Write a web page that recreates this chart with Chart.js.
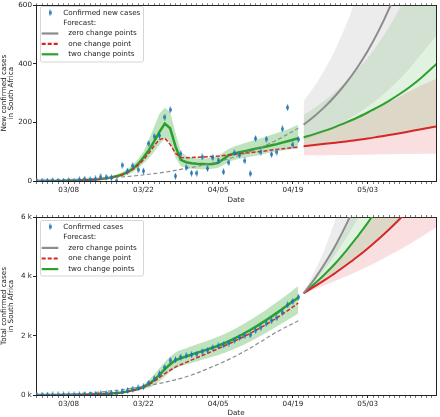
<!DOCTYPE html>
<html>
<head>
<meta charset="utf-8">
<script src="https://cdn.jsdelivr.net/npm/chart.js@4.4.1/dist/chart.umd.min.js"></script>
<style>
  body { margin: 0; background: #fff; }
  canvas { position: absolute; left: 0; display: block; }
</style>
</head>
<body>
<canvas id="newChart" width="440" height="208" style="top:0"></canvas>
<canvas id="totalChart" width="440" height="209" style="top:208px"></canvas>
<script>
// Observed days
const obsDates = ['03/02','03/03','03/04','03/05','03/06','03/07','03/08','03/09','03/10','03/11',
  '03/12','03/13','03/14','03/15','03/16','03/17','03/18','03/19','03/20','03/21',
  '03/22','03/23','03/24','03/25','03/26','03/27','03/28','03/29','03/30','03/31',
  '04/01','04/02','04/03','04/04','04/05','04/06','04/07','04/08','04/09','04/10',
  '04/11','04/12','04/13','04/14','04/15','04/16','04/17','04/18','04/19','04/20'];
const newCases = [0,0,0,1,0,0,2,0,4,6, 4,7,14,13,11,0,54,34,52,38,
  34,128,152,155,218,243,17,93,46,27, 27,82,43,80,70,31,63,96,89,69,
  25,145,99,143,91,99,178,251,124,142];
const totalCases = [0,0,0,1,1,1,3,3,7,13, 17,24,38,51,62,62,116,150,202,240,
  274,402,554,709,927,1170,1187,1280,1326,1353, 1380,1462,1505,1585,1655,1686,1749,1845,1934,2003,
  2028,2173,2272,2415,2506,2605,2783,3034,3158,3300];

// Fitted curves, new cases (same days as obsDates)
const newTwoMid  = [0,0,0,0,0,0,1,1,2,3,4, 5,7,9,12,16,22,30,42,58,80, 105,135,168,196,180,118,72,
  64,61,59,58,57,58,62, 75,88,94,98,102,106,110,114,118,122,126,131,136,141,146];
const newTwoHigh = [1,1,1,1,1,1,2,2,3,5,6, 8,10,13,17,23,30,40,55,75,100, 140,185,230,250,235,165,100,
  85,80,78,77,78,80,85, 98,110,118,124,130,135,141,146,152,158,164,170,176,184,192];
const newTwoLow  = [0,0,0,0,0,0,0,0,1,1,2, 3,5,6,8,11,15,21,30,43,60, 78,100,125,145,130,80,50,
  45,42,40,40,40,42,45, 55,66,72,76,79,83,86,90,94,98,101,104,107,109,111];
const newOneMid  = [0,0,0,0,0,0,1,1,2,3,4, 5,7,9,12,16,21,29,40,54,72, 95,120,142,146,125,95,80,
  79,80,81,82,83,84,85, 87,89,91,93,95,97,99,101,103,106,108,110,112,114,116];
const newZeroDates = ['03/02','03/08','03/14','03/20','03/23','03/26','03/29','04/01','04/04','04/07','04/10','04/13','04/16','04/20'];
const newZeroMid   = [2,5,9,17,23,30,40,50,62,76,94,115,140,180];

// Forecast days
const fcDates = ['04/21','04/23','04/25','04/27','04/29','05/01','05/03','05/05','05/07','05/09','05/11','05/13','05/16'];
const newZeroFc     = [192,221,254,292,336,386,444,511,588,676,778,895,1100];
const newZeroFcHigh = [273,323,382,452,535,633,749,886,1048,1240,1467,1735,2230];
const newZeroFcLow  = [140,154,169,187,207,229,254,282,313,348,388,432,500];
const newTwoFc      = [149,160,172,185,200,216,234,253,274,297,323,352,402];
const newTwoFcHigh  = [225,249,276,306,340,378,421,470,526,590,662,745,890];
const newTwoFcLow   = [118,121,125,129,134,139,145,151,157,163,170,177,188];
const newOneFc      = [119,123,127,131,135,140,145,151,157,163,170,177,187];
const newOneFcHigh  = [150,162,175,189,204,219,235,252,270,288,307,326,350];
const newOneFcLow   = [88,88,88,89,89,90,90,91,91,92,92,93,93];

// Fitted curves, total cases
const totalFitDates = ['03/02','03/12','03/16','03/18','03/20','03/22','03/23','03/24','03/25','03/26',
  '03/28','03/30','04/02','04/05','04/08','04/11','04/14','04/17','04/20'];
const totalTwoMid  = [0,17,48,85,155,275,375,510,680,870,1165,1300,1480,1660,1900,2190,2525,2895,3290];
const totalTwoHigh = [0,19,58,105,195,355,505,690,900,1115,1430,1575,1770,1965,2220,2525,2875,3260,3670];
const totalTwoLow  = [0,15,38,65,115,195,245,330,460,625,900,1025,1190,1350,1550,1800,2100,2420,2750];
const totalOneMid  = [0,17,48,85,150,260,350,460,590,720,940,1100,1330,1560,1810,2080,2380,2720,3100];
const totalZeroDates = ['03/02','03/05','03/08','03/12','03/16','03/20','03/23','03/26','03/29','04/01','04/04','04/07','04/10','04/13','04/16','04/20'];
const totalZeroMid   = [0,12,30,70,140,230,320,430,560,740,960,1200,1480,1800,2130,2500];

const totalZeroFc     = [3430,3900,4440,5050,5750,6550,7450,8480,9650,10980,12500,14220,17300];
const totalZeroFcHigh = [3430,4150,4950,5950,7100,8400,10000,12000,14000,16500,19500,23000,29000];
const totalZeroFcLow  = [3430,3820,4250,4750,5300,5900,6550,7300,8100,9000,10000,11000,12800];
const totalTwoFc      = [3430,3740,4080,4450,4870,5320,5800,6350,6950,7600,8300,9100,10400];
const totalTwoFcHigh  = [3430,3880,4400,4980,5650,6400,7250,8200,9300,10500,11900,13400,16000];
const totalTwoFcLow   = [3430,3640,3870,4110,4370,4640,4930,5240,5570,5920,6290,6680,7300];
const totalOneFc      = [3430,3650,3880,4120,4380,4650,4940,5250,5580,5930,6300,6700,7320];
const totalOneFcHigh  = [3430,3730,4060,4420,4820,5260,5740,6260,6830,7450,8100,8800,10000];
const totalOneFcLow   = [3430,3560,3700,3850,4000,4160,4330,4510,4700,4900,5110,5330,5670];

// Axis ticks
const tickDates = ['03/08','03/22','04/05','04/19','05/03'];
const newTicks = [0, 200, 400, 600];
const totalTicks = [0, 2000, 4000, 6000];

const GREEN = '#2ca02c', RED = '#d62728', GRAY = '#8c8c8c', BLUE = '#1f77b4';
const FONT = 'DejaVu Sans';

// days counted from 03/08
function dayNum(s) {
  const [m, d] = s.split('/').map(Number);
  const start = {3: -8, 4: 23, 5: 53};
  return start[m] + d;
}
function pts(dates, vals) {
  return dates.map((d, i) => ({ x: dayNum(d), y: vals[i] }));
}

// thin diamond marker
const diamond = document.createElement('canvas');
diamond.width = 3; diamond.height = 7;
(function () {
  const c = diamond.getContext('2d');
  c.fillStyle = BLUE;
  c.beginPath(); c.moveTo(1.5, 0); c.lineTo(3, 3.5); c.lineTo(1.5, 7); c.lineTo(0, 3.5); c.closePath(); c.fill();
})();

function line(data, color, width, dash, smooth) {
  return {
    data, borderColor: color, borderWidth: width, borderDash: dash || [],
    pointRadius: 0, fill: false, order: 5, tension: 0,
    cubicInterpolationMode: smooth ? 'monotone' : 'default'
  };
}
// pushes upper and lower edges, the upper one filled down to the lower one
function band(list, high, low, color, smooth) {
  const mode = smooth ? 'monotone' : 'default';
  list.push({ data: high, borderColor: 'transparent', borderWidth: 0, pointRadius: 0,
    backgroundColor: color, fill: list.length + 1, order: 10, cubicInterpolationMode: mode });
  list.push({ data: low, borderColor: 'transparent', borderWidth: 0, pointRadius: 0,
    fill: false, order: 10, cubicInterpolationMode: mode });
}

const boxLegend = {
  id: 'boxLegend',
  afterDraw(chart, args, o) {
    const ctx = chart.ctx;
    ctx.save();
    ctx.beginPath();
    ctx.roundRect(o.x + 0.5, o.y + 0.5, o.w, o.h, 2);
    ctx.fillStyle = 'rgba(255,255,255,0.8)';
    ctx.fill();
    ctx.strokeStyle = '#d6d6d6';
    ctx.lineWidth = 1;
    ctx.stroke();
    ctx.font = '7.2px "' + FONT + '"';
    ctx.textBaseline = 'middle';
    ctx.fillStyle = '#222';
    o.items.forEach((it, i) => {
      const cy = o.y + 6.7 + i * o.step;
      let tx = o.x + 23.3;
      if (it.marker) ctx.drawImage(diamond, o.x + 8.5, cy - 3.5);
      if (it.color) {
        ctx.beginPath();
        ctx.strokeStyle = it.color;
        ctx.lineWidth = 2.2;
        ctx.setLineDash(it.dash || []);
        ctx.moveTo(o.x + 1.7, cy); ctx.lineTo(o.x + 18.3, cy);
        ctx.stroke();
        ctx.setLineDash([]);
        tx = o.x + 28.3;
      }
      ctx.fillText(it.text, tx, cy);
    });
    ctx.restore();
  }
};

function makeChart(id, cfg) {
  const dayTicks = [];
  for (let d = -6; d <= 68; d++) dayTicks.push({ value: d });
  const tickFont = { family: FONT, size: 7.2 };
  const xBase = {
    type: 'linear', min: -6.13, max: 68.8,
    afterBuildTicks: s => { s.ticks = dayTicks.map(t => ({ value: t.value })); },
    border: { display: true, color: '#222', width: 1 },
  };
  const scales = {
    x: Object.assign({}, xBase, {
      position: 'bottom',
      afterFit: s => { s.height = cfg.xHeight; },
      ticks: {
        autoSkip: false, maxRotation: 0, padding: 2, font: tickFont, color: '#222',
        callback: v => {
          const k = tickDates.findIndex(t => dayNum(t) === v);
          return k >= 0 ? tickDates[k] : '';
        }
      },
      grid: {
        drawOnChartArea: false, tickLength: 3, tickColor: '#222',
        tickWidth: c => (tickDates.some(t => dayNum(t) === c.tick.value) ? 1 : 0.6)
      },
      title: { display: true, text: 'Date', color: '#222',
        font: { family: FONT, size: 7.2, lineHeight: 1 }, padding: { top: 0, bottom: cfg.dateGap } }
    }),
    xTop: Object.assign({}, xBase, {
      position: 'top',
      afterFit: s => { s.height = cfg.topGap; },
      ticks: { display: false },
      grid: { drawOnChartArea: false, tickLength: 2, tickColor: '#222', tickWidth: 0.6 }
    }),
    y: {
      min: 0, max: cfg.yMax,
      afterBuildTicks: s => { s.ticks = cfg.yTicks.map(v => ({ value: v })); },
      afterFit: s => { s.width = 36; },
      ticks: { padding: 1, font: tickFont, color: '#222', callback: cfg.yLabel },
      grid: { drawOnChartArea: false, tickLength: 3, tickColor: '#222' },
      border: { display: true, color: '#222', width: 1 },
      title: { display: true, text: cfg.yTitle, color: '#222',
        font: { family: FONT, size: 7.2, lineHeight: 1.05 }, padding: 0 }
    },
    yRight: {
      position: 'right', min: 0, max: cfg.yMax,
      afterFit: s => { s.width = 1; },
      ticks: { display: false },
      grid: { drawOnChartArea: false, drawTicks: false },
      border: { display: true, color: '#222', width: 1 }
    }
  };
  return new Chart(document.getElementById(id), {
    type: 'line',
    data: { datasets: cfg.datasets },
    options: {
      responsive: false, animation: false, events: [],
      layout: { padding: 0 },
      scales,
      plugins: {
        legend: { display: false }, tooltip: { enabled: false },
        filler: { drawTime: 'beforeDatasetsDraw' },
        boxLegend: cfg.legend
      }
    },
    plugins: [boxLegend]
  });
}

function buildSets(o) {
  const list = [];
  // forecast bands
  band(list, pts(fcDates, o.zeroFcHigh), pts(fcDates, o.zeroFcLow), 'rgba(128,128,128,0.15)', true);
  band(list, pts(fcDates, o.twoFcHigh), pts(fcDates, o.twoFcLow), 'rgba(44,160,44,0.14)', true);
  band(list, pts(fcDates, o.oneFcHigh), pts(fcDates, o.oneFcLow), 'rgba(214,39,40,0.15)', true);
  // fitted band
  band(list, pts(o.fitDates, o.twoHigh), pts(o.fitDates, o.twoLow), 'rgba(44,160,44,0.3)', o.smoothFit);
  // fitted lines
  list.push(line(pts(o.zeroDates, o.zeroMid), GRAY, 1.2, [4, 2.5], true));
  list.push(line(pts(o.fitDates, o.oneMid), RED, 1.5, [4, 2], o.smoothFit));
  list.push(line(pts(o.fitDates, o.twoMid), GREEN, 2.5, [], o.smoothFit));
  // forecast lines
  list.push(line(pts(fcDates, o.zeroFc), GRAY, 2, [], true));
  list.push(line(pts(fcDates, o.oneFc), RED, 2, [], true));
  list.push(line(pts(fcDates, o.twoFc), GREEN, 2, [], true));
  // observations
  list.push({ data: pts(obsDates, o.obs), showLine: false, pointStyle: diamond,
    pointRadius: 3.5, borderWidth: 0, order: 1 });
  return list;
}

function legendItems(first) {
  return [
    { text: first, marker: true },
    { text: 'Forecast:' },
    { text: 'zero change points', color: GRAY },
    { text: 'one change point', color: RED, dash: [4, 2] },
    { text: 'two change points', color: GREEN }
  ];
}

makeChart('newChart', {
  xHeight: 27, topGap: 3, dateGap: 4.4, yMax: 600, yTicks: newTicks,
  yLabel: v => String(v),
  yTitle: ['New confirmed cases', 'in South Africa'],
  legend: { x: 40, y: 6, w: 103, h: 55.5, step: 10.4, items: legendItems('Confirmed new cases') },
  datasets: buildSets({
    obs: newCases, fitDates: obsDates, smoothFit: false,
    twoMid: newTwoMid, twoHigh: newTwoHigh, twoLow: newTwoLow, oneMid: newOneMid,
    zeroDates: newZeroDates, zeroMid: newZeroMid,
    zeroFc: newZeroFc, zeroFcHigh: newZeroFcHigh, zeroFcLow: newZeroFcLow,
    twoFc: newTwoFc, twoFcHigh: newTwoFcHigh, twoFcLow: newTwoFcLow,
    oneFc: newOneFc, oneFcHigh: newOneFcHigh, oneFcLow: newOneFcLow
  })
});

makeChart('totalChart', {
  xHeight: 22, topGap: 9, dateGap: 0.1, yMax: 6000, yTicks: totalTicks,
  yLabel: v => (v / 1000) + ' k',
  yTitle: ['Total confirmed cases', 'in South Africa'],
  legend: { x: 40, y: 12, w: 103, h: 55.5, step: 10.6, items: legendItems('Confirmed cases') },
  datasets: buildSets({
    obs: totalCases, fitDates: totalFitDates, smoothFit: true,
    twoMid: totalTwoMid, twoHigh: totalTwoHigh, twoLow: totalTwoLow, oneMid: totalOneMid,
    zeroDates: totalZeroDates, zeroMid: totalZeroMid,
    zeroFc: totalZeroFc, zeroFcHigh: totalZeroFcHigh, zeroFcLow: totalZeroFcLow,
    twoFc: totalTwoFc, twoFcHigh: totalTwoFcHigh, twoFcLow: totalTwoFcLow,
    oneFc: totalOneFc, oneFcHigh: totalOneFcHigh, oneFcLow: totalOneFcLow
  })
});
</script>
</body>
</html>
